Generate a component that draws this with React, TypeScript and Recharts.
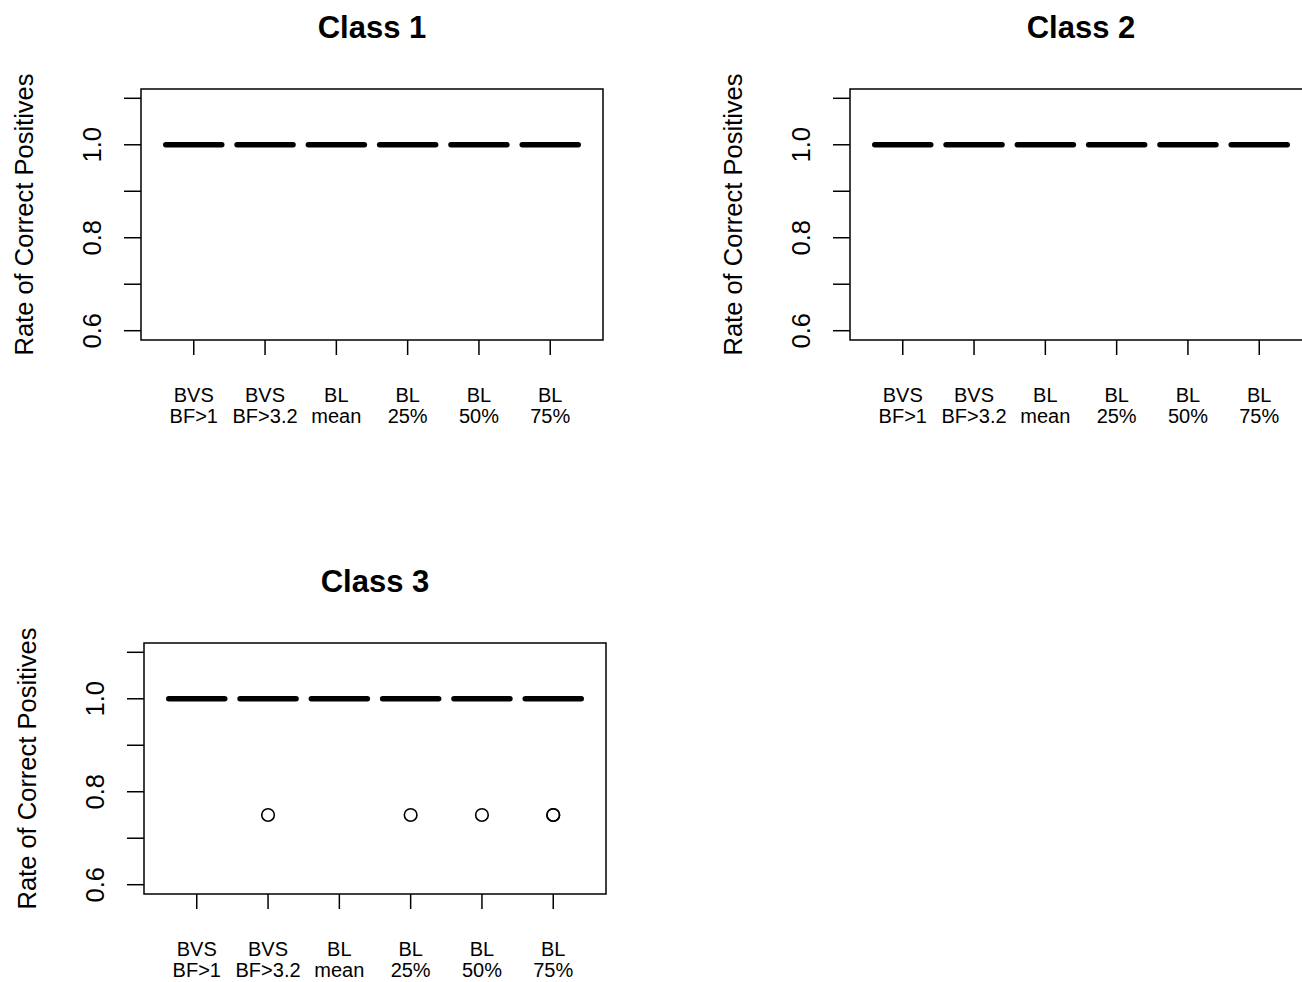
import React from "react";
import { ComposedChart, Scatter, XAxis, YAxis, ReferenceArea } from "recharts";

// categories: two-line tick labels
const categoryTop = ["BVS", "BVS", "BL", "BL", "BL", "BL"];
const categoryBottom = ["BF>1", "BF>3.2", "mean", "25%", "50%", "75%"];

// medians per method (box collapses to the median line)
const class1Medians = [1, 1, 1, 1, 1, 1];
const class2Medians = [1, 1, 1, 1, 1, 1];
const class3Medians = [1, 1, 1, 1, 1, 1];

// outliers: method position (1-based) and value
const class3OutlierPos = [2, 4, 5, 6, 6];
const class3OutlierValues = [0.75, 0.75, 0.75, 0.75, 0.75];

const yTicks = [0.6, 0.7, 0.8, 0.9, 1.0, 1.1];
const yLabelled = [0.6, 0.8, 1.0];
const xTicks = [1, 2, 3, 4, 5, 6];

const FONT = "'Liberation Sans', Arial, Helvetica, sans-serif";

const W = 640;
const H = 428;
const PLOT_L = 141;
const PLOT_T = 89;
const PLOT_W = 462;
const PLOT_H = 251;

const MedianShape = (props: any) => {
  const { cx, cy } = props;
  return (
    <line x1={cx - 28} x2={cx + 28} y1={cy} y2={cy} stroke="#000" strokeWidth={5.5} strokeLinecap="round" />
  );
};

const OutlierShape = (props: any) => {
  const { cx, cy } = props;
  return <circle cx={cx} cy={cy} r={6.3} fill="none" stroke="#000" strokeWidth={1.6} />;
};

const YTick = (props: any) => {
  const { x, y, payload } = props;
  if (!yLabelled.some((v) => Math.abs(v - payload.value) < 1e-9)) return null;
  return (
    <text x={x} y={y} transform={`rotate(-90 ${x} ${y})`} textAnchor="middle" fontSize={25.5} fontFamily={FONT} fill="#000">
      {payload.value.toFixed(1)}
    </text>
  );
};

const XTick = (props: any) => {
  const { x, y, payload } = props;
  const i = payload.value - 1;
  return (
    <text x={x} y={y} textAnchor="middle" fontSize={20} fontFamily={FONT} fill="#000">
      <tspan x={x} dy={47}>{categoryTop[i]}</tspan>
      <tspan x={x} dy={21}>{categoryBottom[i]}</tspan>
    </text>
  );
};

function Panel({ left, top, title, medians, outlierPos, outlierValues }: any) {
  const medianData = medians.map((v: number, i: number) => ({ pos: i + 1, value: v }));
  const outlierData = (outlierPos || []).map((p: number, i: number) => ({ pos: p, value: outlierValues[i] }));
  return (
    <div style={{ position: "absolute", left, top, width: W, height: H }}>
      <div
        style={{
          position: "absolute",
          left: PLOT_L,
          width: PLOT_W,
          top: 13,
          textAlign: "center",
          fontFamily: FONT,
          fontWeight: "bold",
          fontSize: 31,
          lineHeight: "30px",
        }}
      >
        {title}
      </div>
      <ComposedChart
        width={W}
        height={H}
        margin={{ top: PLOT_T, left: PLOT_L - 60, right: W - PLOT_L - PLOT_W, bottom: H - PLOT_T - PLOT_H - 60 }}
      >
        <XAxis
          type="number"
          dataKey="pos"
          domain={[0.26, 6.74]}
          allowDataOverflow
          ticks={xTicks}
          interval={0}
          height={60}
          axisLine={false}
          tickSize={15}
          tickMargin={0}
          tickLine={{ stroke: "#000", strokeWidth: 1.5 }}
          tick={<XTick />}
        />
        <YAxis
          type="number"
          dataKey="value"
          domain={[0.58, 1.12]}
          allowDataOverflow
          ticks={yTicks}
          interval={0}
          width={60}
          axisLine={false}
          tickSize={17}
          tickMargin={23}
          tickLine={{ stroke: "#000", strokeWidth: 1.5 }}
          tick={<YTick />}
          label={{
            content: (p: any) => {
              const vb = p.viewBox;
              const cx = 33;
              const cy = vb.y + vb.height / 2;
              return (
                <text x={cx} y={cy} transform={`rotate(-90 ${cx} ${cy})`} textAnchor="middle" fontSize={25.5} fontFamily={FONT} fill="#000">
                  Rate of Correct Positives
                </text>
              );
            },
          }}
        />
        <ReferenceArea x1={0.26} x2={6.74} y1={0.58} y2={1.12} fill="none" fillOpacity={0} stroke="#000" strokeWidth={1.5} ifOverflow="visible" />
        <Scatter data={medianData} dataKey="value" shape={<MedianShape />} isAnimationActive={false} />
        {outlierData.length > 0 && (
          <Scatter data={outlierData} dataKey="value" shape={<OutlierShape />} isAnimationActive={false} />
        )}
      </ComposedChart>
    </div>
  );
}

export default function App() {
  return (
    <div style={{ position: "fixed", left: 0, top: 0, width: 1302, height: 982, overflow: "hidden", background: "#fff" }}>
      <Panel left={0} top={0} title="Class 1" medians={class1Medians} />
      <Panel left={709} top={0} title="Class 2" medians={class2Medians} />
      <Panel
        left={3}
        top={554}
        title="Class 3"
        medians={class3Medians}
        outlierPos={class3OutlierPos}
        outlierValues={class3OutlierValues}
      />
    </div>
  );
}
